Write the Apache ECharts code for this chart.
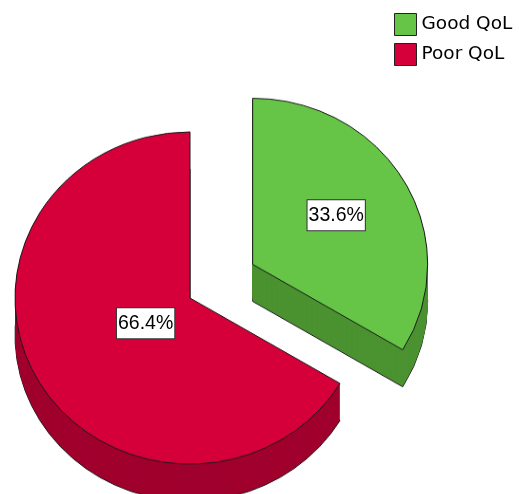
<!DOCTYPE html>
<html><head><meta charset="utf-8">
<script src="https://cdn.jsdelivr.net/npm/echarts@6/dist/echarts.min.js"></script>
<style>
html,body{margin:0;padding:0;background:#fff;overflow:hidden}
#wrap{position:relative;width:519px;height:494px;overflow:hidden}
#pie{position:absolute;left:0;top:0;width:519px;height:521px;transform:scaleY(0.949);transform-origin:0 0}
#ov{position:absolute;left:0;top:0;width:519px;height:494px}
</style>
</head><body><div id="wrap"><div id="pie"></div><div id="ov"></div></div>
<script>
var categories = ['Good QoL', 'Poor QoL'];
var values = [33.6, 66.4];
var topColors = ['#66c547', '#d5003a'];
var sideColors = ['#4b9231', '#a0002d'];

(function () {
var pieChart = echarts.init(document.getElementById('pie'));
var ovChart = echarts.init(document.getElementById('ov'));
var SY = 0.949;
var CX = 190, CY = 298, R = 175, DEPTH = 39, OFF = 72;

function makeData(colors, border) {
  return categories.map(function (n, i) {
    return {
      name: n, value: values[i], selected: i === 0,
      itemStyle: { color: colors[i], borderColor: border ? '#1a1a1a' : colors[i], borderWidth: border ? 1 : 0 }
    };
  });
}
function base(cx, cy, r, off) {
  return {
    type: 'pie', center: [cx, cy], radius: r, startAngle: 90, clockwise: true,
    selectedMode: 'single', selectedOffset: off, animation: false,
    emphasis: { disabled: true }, label: { show: false }, labelLine: { show: false }
  };
}
var series = [];
for (var d = DEPTH; d >= 1; d -= 1) {
  var s = base(CX, CY / SY + d, R, OFF);
  s.data = makeData(sideColors, d === DEPTH);
  series.push(s);
}
var topPie = base(CX, CY / SY, R, OFF);
topPie.data = makeData(topColors, true);
series.push(topPie);

pieChart.setOption({ backgroundColor: '#fff', series: series });

function labelStyle() {
  return {
    show: true, position: 'inside', formatter: function (p) { return p.value.toFixed(1) + '%'; },
    color: '#000', fontFamily: 'Liberation Sans, Arial, sans-serif', fontSize: 19.5, lineHeight: 21,
    backgroundColor: '#fff', borderColor: '#333', borderWidth: 1, padding: [5, 1, 4, 1]
  };
}
var labelSeries = [];
[[96, 1], [188, 0]].forEach(function (cfg) {
  var s = base(CX, CY, cfg[0], 71);
  s.data = categories.map(function (n, i) {
    return {
      name: n, value: values[i], selected: i === 0,
      itemStyle: { color: 'rgba(0,0,0,0)', borderWidth: 0 },
      label: i === cfg[1] ? labelStyle() : { show: false }
    };
  });
  s.silent = true;
  labelSeries.push(s);
});

ovChart.setOption({
  legend: {
    left: 394, top: 13, padding: 0, orient: 'vertical', icon: 'rect',
    itemWidth: 22, itemHeight: 22, itemGap: 7,
    selectedMode: false,
    textStyle: { fontFamily: 'DejaVu Sans', fontSize: 18.5, color: '#000' },
    data: categories.map(function (n, i) {
      return { name: n, itemStyle: { color: topColors[i], borderColor: '#222', borderWidth: 1 } };
    })
  },
  series: labelSeries
});
})();
</script></body></html>
